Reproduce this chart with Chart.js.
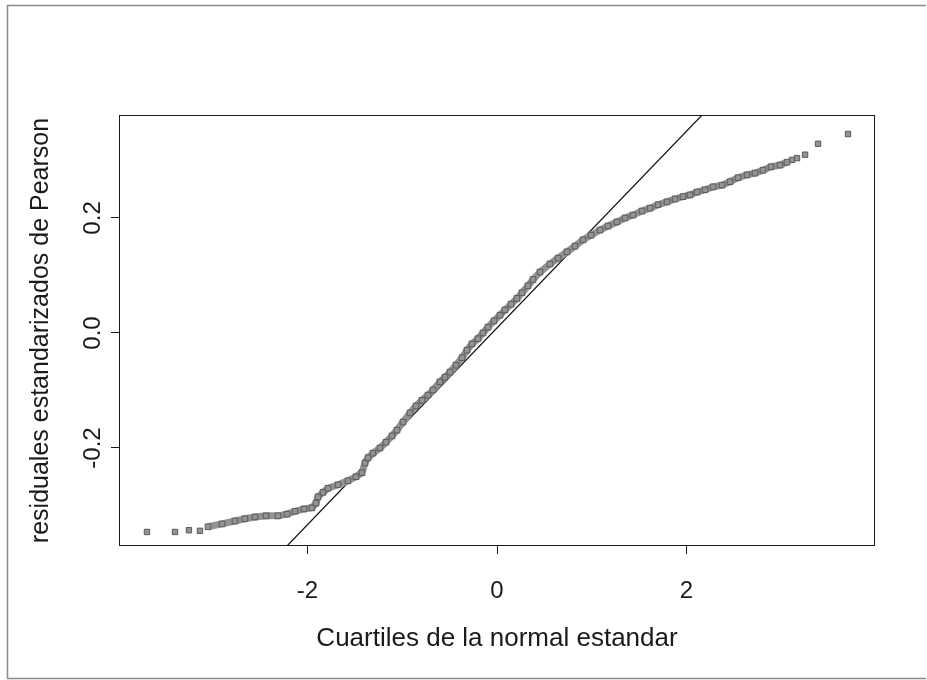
<!DOCTYPE html>
<html>
<head>
<meta charset="utf-8">
<script src="https://cdn.jsdelivr.net/npm/chart.js@4.4.1/dist/chart.umd.min.js"></script>
<style>
  html, body { margin: 0; padding: 0; background: #fff; }
  #wrap { position: relative; width: 927px; height: 680px; }
</style>
</head>
<body>
<div id="wrap"><canvas id="qq"></canvas></div>
<script>
// qq-plot: residuales vs cuartiles normales

const bandX = [
  -3.050, -2.902, -2.765, -2.660, -2.554, -2.438, -2.311, -2.216, -2.132, -2.037,
  -1.953, -1.910, -1.889, -1.836, -1.784, -1.678, -1.573, -1.488, -1.425, -1.393,
  -1.361, -1.309, -1.235, -1.172, -1.108, -1.055, -0.992, -0.918, -0.855, -0.792,
  -0.728, -0.675, -0.602, -0.549, -0.496, -0.433, -0.369, -0.317, -0.264, -0.201,
  -0.148, -0.095, -0.032, 0.032, 0.084, 0.148, 0.211, 0.264, 0.327, 0.380,
  0.454, 0.559, 0.644, 0.739, 0.823, 0.908, 0.992, 1.087, 1.172, 1.266,
  1.351, 1.435, 1.530, 1.615, 1.699, 1.794, 1.879, 1.963, 2.037, 2.111,
  2.195, 2.280, 2.375, 2.459, 2.544, 2.639, 2.723, 2.807, 2.892, 2.987,
  3.061
];
const bandY = [
  -0.337, -0.332, -0.327, -0.323, -0.320, -0.318, -0.318, -0.315, -0.310, -0.306,
  -0.304, -0.296, -0.285, -0.277, -0.270, -0.264, -0.257, -0.250, -0.243, -0.226,
  -0.217, -0.209, -0.200, -0.190, -0.179, -0.169, -0.155, -0.139, -0.127, -0.117,
  -0.108, -0.099, -0.085, -0.077, -0.068, -0.056, -0.043, -0.030, -0.019, -0.010,
  0.000, 0.010, 0.021, 0.031, 0.040, 0.050, 0.060, 0.070, 0.082, 0.093,
  0.106, 0.120, 0.130, 0.141, 0.151, 0.162, 0.170, 0.179, 0.186, 0.193,
  0.200, 0.205, 0.212, 0.217, 0.223, 0.228, 0.233, 0.237, 0.240, 0.245,
  0.249, 0.254, 0.257, 0.263, 0.270, 0.275, 0.278, 0.283, 0.289, 0.292,
  0.297
];

// isolated points at both ends
const tailX = [-3.694, -3.398, -3.251, -3.135, 3.113, 3.166, 3.251, 3.388, 3.704];
const tailY = [-0.346, -0.346, -0.343, -0.344, 0.301, 0.304, 0.310, 0.329, 0.346];

// qqline, where it leaves the box
const qqLineX = [-2.216, 2.164];
const qqLineY = [-0.3704, 0.379];

const xTicks = [-2, 0, 2];
const yTicks = [-0.2, 0.0, 0.2];
const xTitle = "Cuartiles de la normal estandar";
const yTitle = "residuales estandarizados de Pearson";

const FONT = "'Liberation Sans', Arial, sans-serif";
const INK = "#1a1a1a";
const DOT = "#939393";

function pts(xs, ys) {
  return xs.map((x, i) => ({ x, y: ys[i] }));
}

// frame of the page, box around the plot, vertical y labels (R style)
const rStyle = {
  id: "rStyle",
  beforeDraw(chart) {
    const ctx = chart.ctx;
    ctx.save();
    ctx.fillStyle = "#fff";
    ctx.fillRect(0, 0, chart.width, chart.height);
    ctx.strokeStyle = "#8a8a8a";
    ctx.lineWidth = 1.5;
    ctx.beginPath();
    ctx.moveTo(926, 5.5);
    ctx.lineTo(7.5, 5.5);
    ctx.lineTo(7.5, 678.5);
    ctx.lineTo(926, 678.5);
    ctx.stroke();
    ctx.restore();
  },
  afterDraw(chart) {
    const ctx = chart.ctx;
    const a = chart.chartArea;
    const y = chart.scales.y;
    ctx.save();
    ctx.strokeStyle = INK;
    ctx.lineWidth = 1;
    ctx.strokeRect(a.left + 0.5, a.top + 0.5, a.right - a.left - 1, a.bottom - a.top - 1);
    ctx.fillStyle = INK;
    ctx.font = "24px " + FONT;
    ctx.textAlign = "center";
    ctx.textBaseline = "middle";
    yTicks.forEach(v => {
      ctx.save();
      ctx.translate(93, y.getPixelForValue(v));
      ctx.rotate(-Math.PI / 2);
      ctx.fillText(v.toFixed(1), 0, 0);
      ctx.restore();
    });
    ctx.restore();
  }
};

new Chart(document.getElementById("qq"), {
  type: "scatter",
  data: {
    datasets: [
      {
        data: pts(bandX, bandY),
        showLine: true,
        borderColor: DOT,
        borderWidth: 7,
        pointStyle: "rect",
        pointRadius: 4,
        pointBackgroundColor: DOT,
        pointBorderColor: "#5a5a5a",
        pointBorderWidth: 1
      },
      {
        data: pts(tailX, tailY),
        showLine: false,
        pointStyle: "rect",
        pointRadius: 3.8,
        pointBackgroundColor: DOT,
        pointBorderColor: "#5a5a5a",
        pointBorderWidth: 1
      },
      {
        data: pts(qqLineX, qqLineY),
        showLine: true,
        borderColor: "#111",
        borderWidth: 1.2,
        pointRadius: 0
      }
    ]
  },
  options: {
    responsive: true,
    maintainAspectRatio: false,
    devicePixelRatio: 1,
    animation: false,
    layout: { padding: { left: 0, right: 52, top: 115, bottom: 0 } },
    plugins: {
      legend: { display: false },
      tooltip: { enabled: false }
    },
    scales: {
      x: {
        type: "linear",
        min: -3.989,
        max: 3.989,
        afterBuildTicks: s => { s.ticks = xTicks.map(v => ({ value: v })); },
        afterFit: s => { s.height = 134; },
        border: { display: false },
        grid: { drawOnChartArea: false, drawTicks: true, tickLength: 8, color: INK, lineWidth: 1 },
        ticks: {
          padding: 23,
          color: INK,
          font: { family: FONT, size: 24 },
          maxRotation: 0,
          callback: v => String(v)
        },
        title: {
          display: true,
          text: xTitle,
          color: INK,
          font: { family: FONT, size: 26 },
          padding: { top: 0, bottom: 26 }
        }
      },
      y: {
        type: "linear",
        min: -0.3704,
        max: 0.379,
        afterBuildTicks: s => { s.ticks = yTicks.map(v => ({ value: v })); },
        afterFit: s => { s.width = 119; },
        border: { display: false },
        grid: { drawOnChartArea: false, drawTicks: true, tickLength: 8, color: INK, lineWidth: 1 },
        ticks: { display: false },
        title: {
          display: true,
          text: yTitle,
          color: INK,
          font: { family: FONT, size: 25 },
          padding: { top: 26, bottom: 0 }
        }
      }
    }
  },
  plugins: [rStyle]
});
</script>
</body>
</html>
